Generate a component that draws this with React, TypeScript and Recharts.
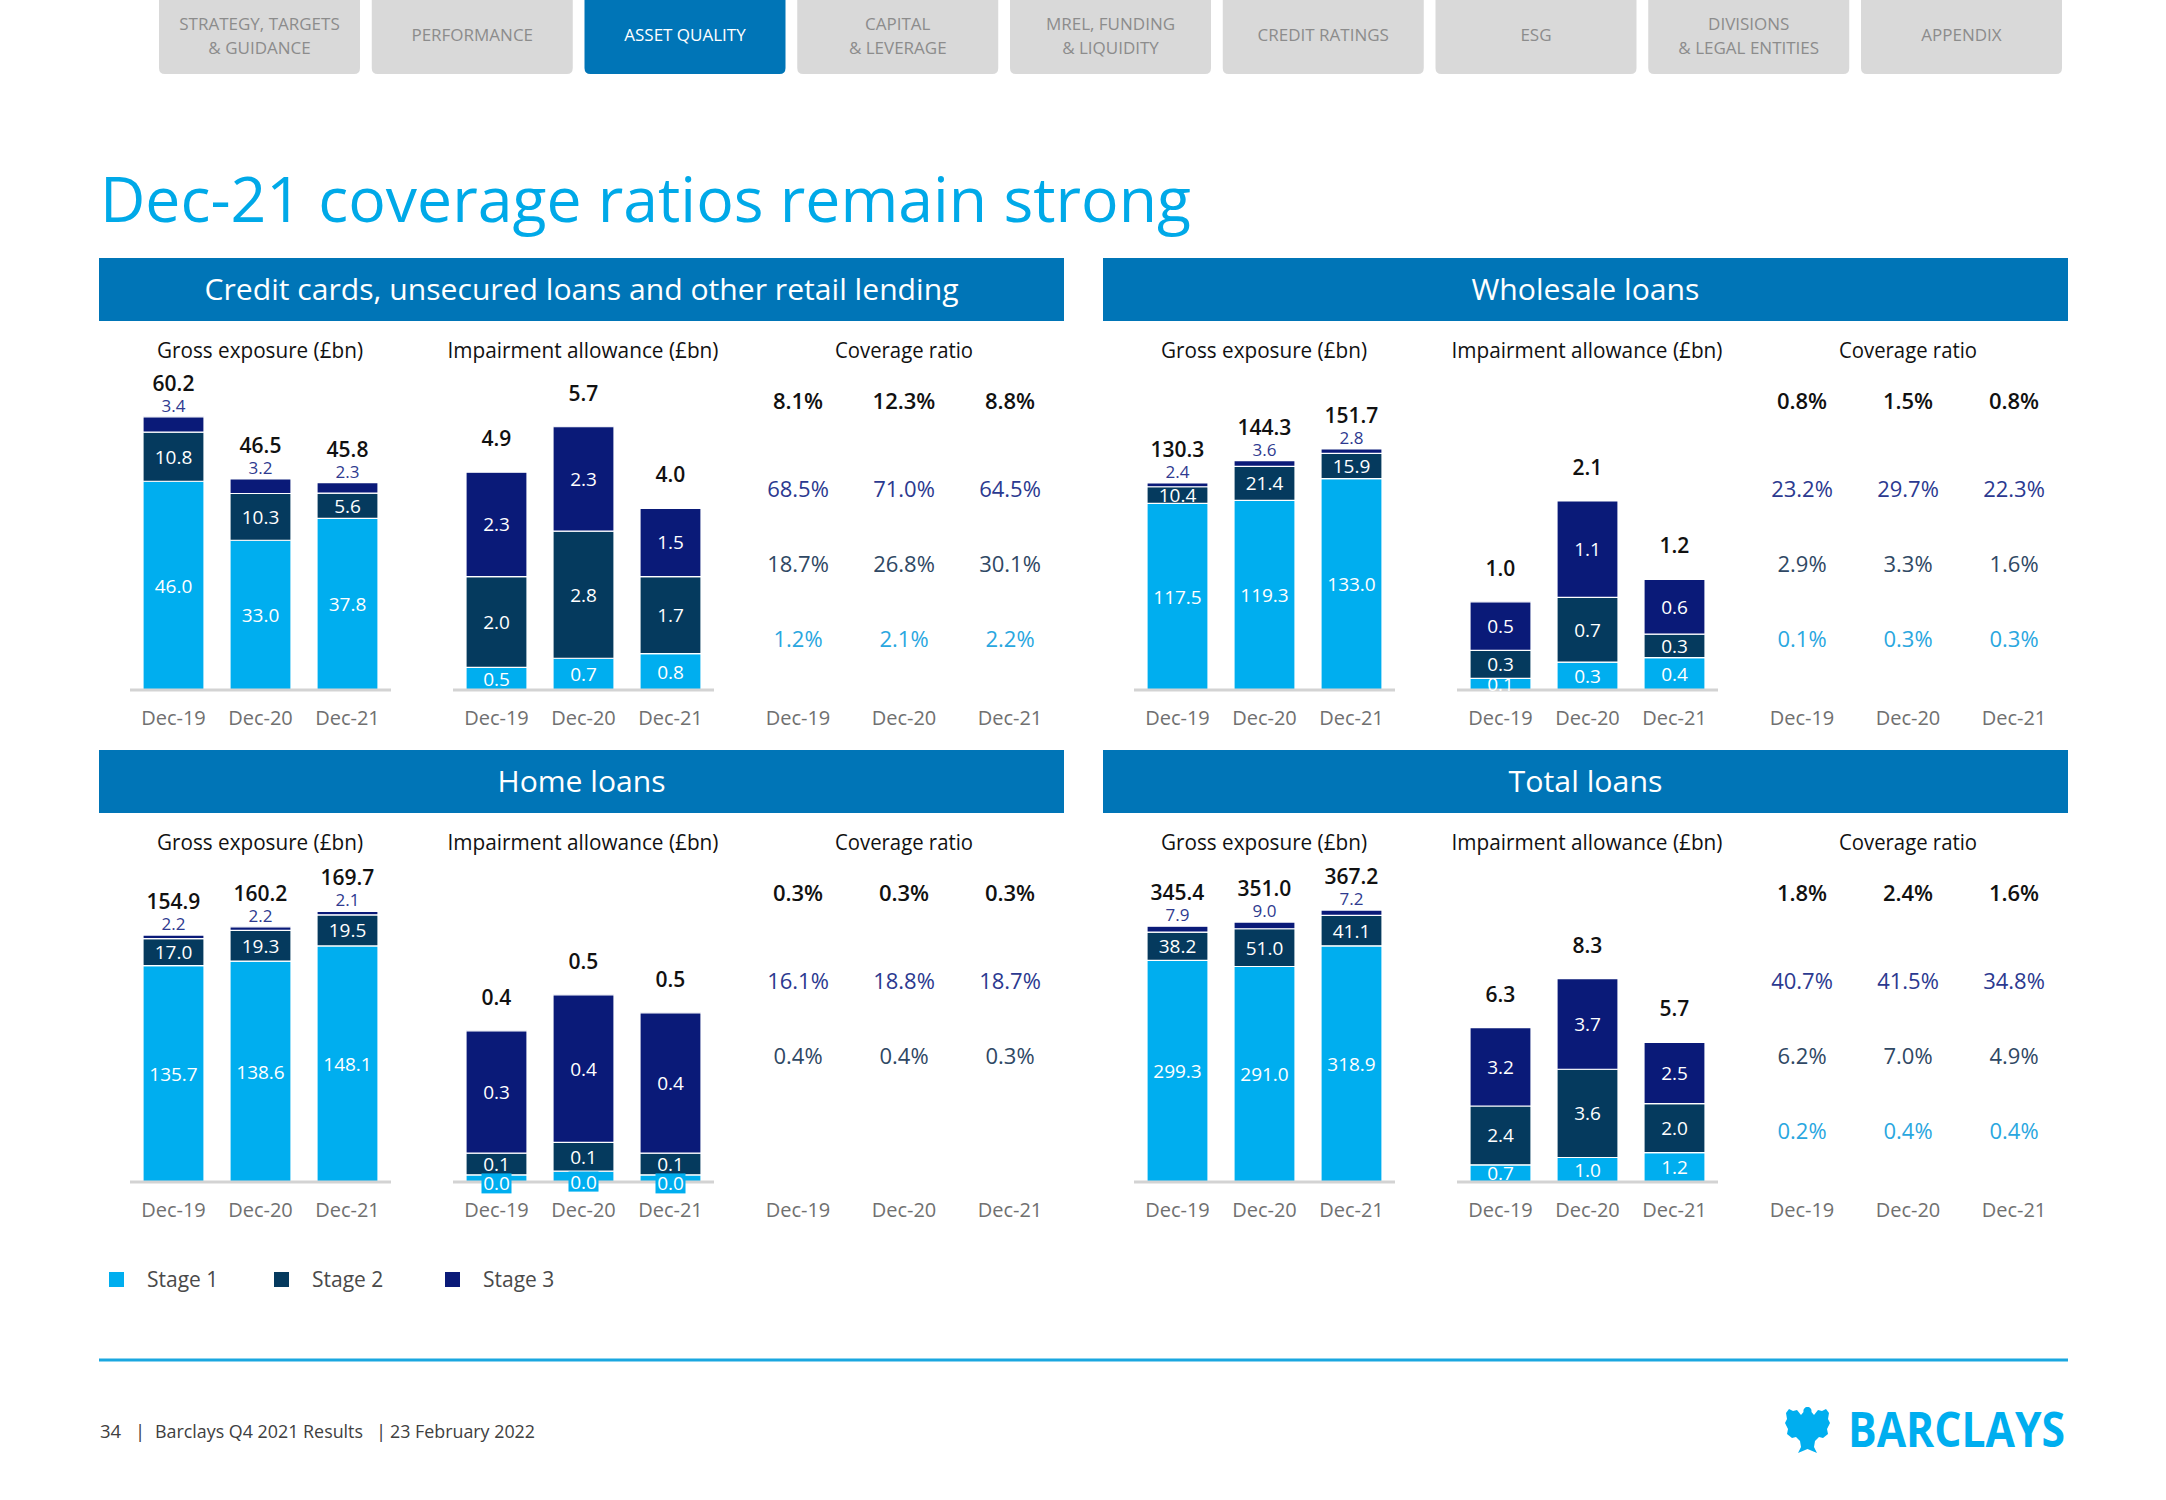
import React from 'react';
import { BarChart, Bar, XAxis, YAxis, LabelList, ScatterChart, Scatter } from 'recharts';

// ---------- DATA ----------
const periods = ['Dec-19', 'Dec-20', 'Dec-21'];

// Credit cards, unsecured loans and other retail lending
const retailGrossStage1 = [46.0, 33.0, 37.8];
const retailGrossStage2 = [10.8, 10.3, 5.6];
const retailGrossStage3 = [3.4, 3.2, 2.3];
const retailGrossTotal = [60.2, 46.5, 45.8];
const retailImpStage1 = [0.5, 0.7, 0.8];
const retailImpStage2 = [2.0, 2.8, 1.7];
const retailImpStage3 = [2.3, 2.3, 1.5];
const retailImpTotal = [4.9, 5.7, 4.0];
const retailCovTotal = ['8.1%', '12.3%', '8.8%'];
const retailCovStage3 = ['68.5%', '71.0%', '64.5%'];
const retailCovStage2 = ['18.7%', '26.8%', '30.1%'];
const retailCovStage1 = ['1.2%', '2.1%', '2.2%'];

// Wholesale loans
const wholesaleGrossStage1 = [117.5, 119.3, 133.0];
const wholesaleGrossStage2 = [10.4, 21.4, 15.9];
const wholesaleGrossStage3 = [2.4, 3.6, 2.8];
const wholesaleGrossTotal = [130.3, 144.3, 151.7];
const wholesaleImpStage1 = [0.13, 0.31, 0.36];
const wholesaleImpStage2 = [0.31, 0.72, 0.26];
const wholesaleImpStage3 = [0.54, 1.07, 0.61];
const wholesaleImpTotal = [1.0, 2.1, 1.2];
const wholesaleCovTotal = ['0.8%', '1.5%', '0.8%'];
const wholesaleCovStage3 = ['23.2%', '29.7%', '22.3%'];
const wholesaleCovStage2 = ['2.9%', '3.3%', '1.6%'];
const wholesaleCovStage1 = ['0.1%', '0.3%', '0.3%'];

// Home loans
const homeGrossStage1 = [135.7, 138.6, 148.1];
const homeGrossStage2 = [17.0, 19.3, 19.5];
const homeGrossStage3 = [2.2, 2.2, 2.1];
const homeGrossTotal = [154.9, 160.2, 169.7];
const homeImpStage1 = [0.02, 0.03, 0.02];
const homeImpStage2 = [0.06, 0.08, 0.06];
const homeImpStage3 = [0.34, 0.41, 0.39];
const homeImpTotal = [0.4, 0.5, 0.5];
const homeCovTotal = ['0.3%', '0.3%', '0.3%'];
const homeCovStage3 = ['16.1%', '18.8%', '18.7%'];
const homeCovStage2 = ['0.4%', '0.4%', '0.3%'];
const homeCovStage1 = ['', '', ''];

// Total loans
const totalGrossStage1 = [299.3, 291.0, 318.9];
const totalGrossStage2 = [38.2, 51.0, 41.1];
const totalGrossStage3 = [7.9, 9.0, 7.2];
const totalGrossTotal = [345.4, 351.0, 367.2];
const totalImpStage1 = [0.7, 1.0, 1.2];
const totalImpStage2 = [2.4, 3.6, 2.0];
const totalImpStage3 = [3.2, 3.7, 2.5];
const totalImpTotal = [6.3, 8.3, 5.7];
const totalCovTotal = ['1.8%', '2.4%', '1.6%'];
const totalCovStage3 = ['40.7%', '41.5%', '34.8%'];
const totalCovStage2 = ['6.2%', '7.0%', '4.9%'];
const totalCovStage1 = ['0.2%', '0.4%', '0.4%'];

const navTabs = [
  'STRATEGY, TARGETS|& GUIDANCE',
  'PERFORMANCE',
  'ASSET QUALITY',
  'CAPITAL|& LEVERAGE',
  'MREL, FUNDING|& LIQUIDITY',
  'CREDIT RATINGS',
  'ESG',
  'DIVISIONS|& LEGAL ENTITIES',
  'APPENDIX',
];
const activeTab = 'ASSET QUALITY';
const stageNames = ['Stage 1', 'Stage 2', 'Stage 3'];
const coverageRowNames = ['Total', 'Stage 3', 'Stage 2', 'Stage 1'];

// ---------- STYLE ----------
const FONT = '"Open Sans", "Noto Sans", "DejaVu Sans", sans-serif';
const C1 = '#00AEEF';
const C2 = '#053A5E';
const C3 = '#0A1A78';
const BAND = '#0075B7';
const TITLE = '#00A9E8';

const buildStack = (s1: number[], s2: number[], s3: number[], tot: number[]) =>
  periods.map((p, i) => ({ period: p, s1: s1[i], s2: s2[i], s3: s3[i], total: tot[i] }));

const buildCoverage = (rows: string[][]) =>
  coverageRowNames.map((name, r) => periods.map((p, i) => ({ period: p, row: name, label: rows[r][i] })));

const panels = [
  {
    title: 'Credit cards, unsecured loans and other retail lending', titleW: 754, dx: 0, dy: 0,
    gross: buildStack(retailGrossStage1, retailGrossStage2, retailGrossStage3, retailGrossTotal), grossMax: 66.1,
    imp: buildStack(retailImpStage1, retailImpStage2, retailImpStage3, retailImpTotal), impMax: 6.61,
    cov: buildCoverage([retailCovTotal, retailCovStage3, retailCovStage2, retailCovStage1]), boxed: false,
  },
  {
    title: 'Wholesale loans', titleW: 228, dx: 1004, dy: 0,
    gross: buildStack(wholesaleGrossStage1, wholesaleGrossStage2, wholesaleGrossStage3, wholesaleGrossTotal), grossMax: 188.8,
    imp: buildStack(wholesaleImpStage1, wholesaleImpStage2, wholesaleImpStage3, wholesaleImpTotal), impMax: 3.333,
    cov: buildCoverage([wholesaleCovTotal, wholesaleCovStage3, wholesaleCovStage2, wholesaleCovStage1]), boxed: false,
  },
  {
    title: 'Home loans', titleW: 168, dx: 0, dy: 492,
    gross: buildStack(homeGrossStage1, homeGrossStage2, homeGrossStage3, homeGrossTotal), grossMax: 188.2,
    imp: buildStack(homeImpStage1, homeImpStage2, homeImpStage3, homeImpTotal), impMax: 0.8333,
    cov: buildCoverage([homeCovTotal, homeCovStage3, homeCovStage2, homeCovStage1]), boxed: true,
  },
  {
    title: 'Total loans', titleW: 154, dx: 1004, dy: 492,
    gross: buildStack(totalGrossStage1, totalGrossStage2, totalGrossStage3, totalGrossTotal), grossMax: 405.1,
    imp: buildStack(totalImpStage1, totalImpStage2, totalImpStage3, totalImpTotal), impMax: 12.24,
    cov: buildCoverage([totalCovTotal, totalCovStage3, totalCovStage2, totalCovStage1]), boxed: false,
  },
];

const fmt = (v: any) => (typeof v === 'number' ? v.toFixed(1) : String(v));
const box = (p: any) => {
  const vb = p.viewBox || {};
  return {
    x: Number(p.x ?? vb.x), y: Number(p.y ?? vb.y),
    w: Number(p.width ?? vb.width), h: Number(p.height ?? vb.height),
  };
};

const AxisTick = (props: any) => {
  const { x, y, payload, offset } = props;
  return (
    <text x={x} y={y + offset} textAnchor="middle" fill="#707070" fontSize={20} fontFamily={FONT}>
      {payload.value}
    </text>
  );
};

const innerLabel = (p: any) => {
  const b = box(p);
  return (
    <text x={b.x + b.w / 2} y={b.y + b.h / 2 + 7} textAnchor="middle" fill="#ffffff" fontSize={19} fontFamily={FONT}>
      {fmt(p.value)}
    </text>
  );
};

const boxedLabel = (p: any) => {
  const b = box(p);
  const cx = b.x + b.w / 2;
  const cy = b.y + b.h / 2 + 5;
  return (
    <g>
      <rect x={cx - 15} y={cy - 10} width={30} height={20} fill={C1} />
      <text x={cx} y={cy + 7} textAnchor="middle" fill="#ffffff" fontSize={19} fontFamily={FONT}>
        {fmt(p.value)}
      </text>
    </g>
  );
};

const outerStage3Label = (p: any) => {
  const b = box(p);
  return (
    <text x={b.x + b.w / 2} y={b.y - 5} textAnchor="middle" fill="#2E3A8F" fontSize={17} fontFamily={FONT}>
      {fmt(p.value)}
    </text>
  );
};

const totalLabel = (p: any) => {
  const b = box(p);
  return (
    <text x={b.x + b.w / 2} y={b.y - 26} textAnchor="middle" fill="#111111" fontSize={21} fontWeight={600} fontFamily={FONT}>
      {fmt(p.value)}
    </text>
  );
};

function StackChart({ left, baseline, data, max, kind, boxed }: any) {
  const W = 261;
  const H = 300;
  return (
    <div style={{ position: 'absolute', left: left - 40, top: baseline - H - 50 }}>
      <BarChart width={W + 80} height={400} data={data} margin={{ top: 50, right: 40, bottom: 0, left: 40 }} barSize={61}>
        <XAxis
          dataKey="period" height={50} interval={0} tickLine={false} tickSize={0} tickMargin={0}
          axisLine={{ stroke: '#d3d3d3', strokeWidth: 3 }} tick={<AxisTick offset={35} />}
        />
        <YAxis hide type="number" domain={[0, max]} allowDataOverflow />
        <Bar dataKey="s1" stackId="a" fill={C1} stroke="#ffffff" strokeWidth={1.2} isAnimationActive={false}>
          <LabelList dataKey="s1" content={boxed ? boxedLabel : innerLabel} />
        </Bar>
        <Bar dataKey="s2" stackId="a" fill={C2} stroke="#ffffff" strokeWidth={1.2} isAnimationActive={false}>
          <LabelList dataKey="s2" content={innerLabel} />
        </Bar>
        <Bar dataKey="s3" stackId="a" fill={C3} stroke="#ffffff" strokeWidth={1.2} isAnimationActive={false}>
          <LabelList dataKey="s3" content={kind === 'gross' ? outerStage3Label : innerLabel} />
          <LabelList dataKey="total" content={totalLabel} />
        </Bar>
      </BarChart>
    </div>
  );
}

const coverageStyles = [
  { color: '#111111', weight: 600, dy: -13 },
  { color: '#2B3990', weight: 400, dy: 0 },
  { color: '#2F4864', weight: 400, dy: 0 },
  { color: '#2AA7DF', weight: 400, dy: 0 },
];

function CoverageChart({ left, baseline, rows }: any) {
  const W = 318;
  const H = 300;
  const plotTop = baseline - 313.5;
  return (
    <div style={{ position: 'absolute', left: left - 40, top: plotTop - 36.5 }}>
      <ScatterChart width={W + 80} height={400} margin={{ top: 36.5, right: 40, bottom: 13.5, left: 40 }}>
        <XAxis
          dataKey="period" type="category" allowDuplicatedCategory={false} height={50} interval={0}
          axisLine={false} tickLine={false} tickSize={0} tickMargin={0} tick={<AxisTick offset={48.5} />}
        />
        <YAxis dataKey="row" type="category" allowDuplicatedCategory={false} hide reversed />
        {rows.map((rowData: any[], r: number) => (
          <Scatter
            key={coverageRowNames[r]}
            data={rowData}
            isAnimationActive={false}
            shape={(p: any) => (
              <text
                x={p.cx} y={p.cy + 8 + coverageStyles[r].dy} textAnchor="middle"
                fill={coverageStyles[r].color} fontWeight={coverageStyles[r].weight}
                fontSize={22} fontFamily={FONT}
              >
                {p.payload.label}
              </text>
            )}
          />
        ))}
      </ScatterChart>
    </div>
  );
}

const tabPath = (x: number, w: number, h: number, r: number) =>
  `M${x},0 H${x + w} V${h - r} Q${x + w},${h} ${x + w - r},${h} H${x + r} Q${x},${h} ${x},${h - r} Z`;

const eaglePath =
  'M22.5,0 C25,0 27,2 26.5,5 L29,8 L33,3 L37,4 L41,2 L44,6 L43,12 L45,16 L42,22 L43,27 L38,31 L34,30 L30,34 L29,40 L32,46 L22.5,42 L13,46 L16,40 L15,34 L11,30 L7,31 L2,27 L3,22 L0,16 L2,12 L1,6 L4,2 L8,4 L12,3 L16,8 L18.5,5 C18,2 20,0 22.5,0 Z';

export default function App() {
  return (
    <div
      style={{
        position: 'absolute', left: 0, top: 0, width: 2166, height: 1500,
        background: '#ffffff', overflow: 'hidden', fontFamily: FONT,
      }}
    >
      <svg width={2166} height={1500} style={{ position: 'absolute', left: 0, top: 0 }} fontFamily={FONT}>
        {/* navigation tabs */}
        {navTabs.map((t, i) => {
          const x = 159 + i * 212.75;
          const w = 201;
          const active = t === activeTab;
          const lines = t.split('|');
          return (
            <g key={t}>
              <path d={tabPath(x, w, 74, 6)} fill={active ? BAND : '#D9D9D9'} />
              {lines.map((ln, k) => (
                <text
                  key={k} x={x + w / 2} y={lines.length === 1 ? 40.5 : 29.5 + k * 24}
                  textAnchor="middle" fontSize={17} fill={active ? '#ffffff' : '#8C8C8C'}
                >
                  {ln}
                </text>
              ))}
            </g>
          );
        })}

        {/* title */}
        <text x={100} y={221.5} fontSize={63} fill={TITLE} textLength={1091} lengthAdjust="spacingAndGlyphs">
          Dec-21 coverage ratios remain strong
        </text>

        {/* panel headers and sub headers */}
        {panels.map((p) => (
          <g key={p.title}>
            <rect x={99 + p.dx} y={258 + p.dy} width={965} height={63} fill={BAND} />
            <text
              x={581.5 + p.dx} y={300 + p.dy} textAnchor="middle" fontSize={30} fill="#ffffff"
              textLength={p.titleW} lengthAdjust="spacingAndGlyphs"
            >
              {p.title}
            </text>
            <text x={260 + p.dx} y={358 + p.dy} textAnchor="middle" fontSize={21} fill="#111111" textLength={206} lengthAdjust="spacingAndGlyphs">
              Gross exposure (£bn)
            </text>
            <text x={583 + p.dx} y={358 + p.dy} textAnchor="middle" fontSize={21} fill="#111111" textLength={271} lengthAdjust="spacingAndGlyphs">
              Impairment allowance (£bn)
            </text>
            <text x={904 + p.dx} y={358 + p.dy} textAnchor="middle" fontSize={21} fill="#111111" textLength={138} lengthAdjust="spacingAndGlyphs">
              Coverage ratio
            </text>
          </g>
        ))}

        {/* legend */}
        {stageNames.map((s, i) => {
          const sx = [109, 274, 445][i];
          const tx = [147, 312, 483][i];
          return (
            <g key={s}>
              <rect x={sx} y={1272} width={15} height={15} fill={[C1, C2, C3][i]} />
              <text x={tx} y={1287} fontSize={21} fill="#4A4A4A">{s}</text>
            </g>
          );
        })}

        {/* footer */}
        <rect x={99} y={1358.5} width={1969} height={3} fill="#1AA7E0" />
        <text x={100} y={1438} fontSize={18.5} fill="#404040">34</text>
        <text x={135} y={1438} fontSize={18.5} fill="#404040">|</text>
        <text x={155} y={1438} fontSize={18.5} fill="#404040" textLength={208} lengthAdjust="spacingAndGlyphs">Barclays Q4 2021 Results</text>
        <text x={376} y={1438} fontSize={18.5} fill="#404040">|</text>
        <text x={390} y={1438} fontSize={18.5} fill="#404040" textLength={145} lengthAdjust="spacingAndGlyphs">23 February 2022</text>

        {/* logo */}
        <g transform="translate(1785,1407)">
          <path d={eaglePath} fill="#00AEEF" />
        </g>
        <text x={1848} y={1447} fontSize={48} fontWeight={700} fill="#00AEEF" textLength={217} lengthAdjust="spacingAndGlyphs">
          BARCLAYS
        </text>
      </svg>

      {panels.map((p) => (
        <React.Fragment key={p.title}>
          <StackChart left={130 + p.dx} baseline={690 + p.dy} data={p.gross} max={p.grossMax} kind="gross" boxed={false} />
          <StackChart left={453 + p.dx} baseline={690 + p.dy} data={p.imp} max={p.impMax} kind="imp" boxed={p.boxed} />
          <CoverageChart left={745 + p.dx} baseline={690 + p.dy} rows={p.cov} />
        </React.Fragment>
      ))}
    </div>
  );
}
